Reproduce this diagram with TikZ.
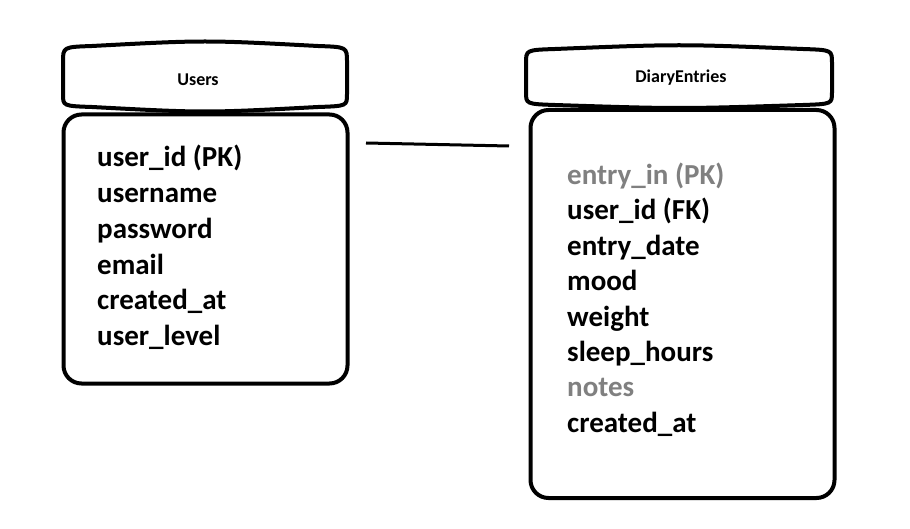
\documentclass[tikz,border=0pt]{standalone}
\usepackage{fontspec}
\setmainfont{Carlito}
\definecolor{fieldgray}{HTML}{808080}
\begin{document}
\begin{tikzpicture}[x=1pt,y=-1pt,
  outline/.style={line width=4pt, line join=round},
  tbody/.style={outline, draw, rounded corners=18pt, inner sep=0pt},
  title/.style={font=\fontsize{18}{21}\selectfont\bfseries, anchor=base, inner sep=0pt},
  field/.style={font=\fontsize{29}{35}\selectfont\bfseries, anchor=base west, inner sep=0pt},
  grayfield/.style={field, text=fieldgray},
  link/.style={line width=3pt}]
\useasboundingbox (0,0) rectangle (910,529);
% Users header
\draw[outline] (63,62) .. controls (63,47) .. (92,46) .. controls (205,40) .. (318,46) .. controls (347,47) .. (347,62)
  -- (347,94) .. controls (347,106) .. (318,107) .. controls (205,113) .. (92,107) .. controls (63,106) .. (63,94) -- cycle;
\node[title] (uhead) at (198,85.5) {Users};
% Users body
\node[tbody, minimum width=284pt, minimum height=269pt] (ubody) at (205.5,249) {};
\node[field] (u1) at (97,167) {user\_id (PK)};
\node[field] (u2) at (97,202.7) {username};
\node[field] (u3) at (97,238.4) {password};
\node[field] (u4) at (97,274.1) {email};
\node[field] (u5) at (97,309.8) {created\_at};
\node[field] (u6) at (97,345.5) {user\_level};
% DiaryEntries header
\draw[outline] (526,63) .. controls (526,50) .. (555,49) .. controls (679,44) .. (803,49) .. controls (832,50) .. (832,63)
  -- (832,92) .. controls (832,104) .. (803,105) .. controls (679,109) .. (555,105) .. controls (526,104) .. (526,92) -- cycle;
\node[title] (dhead) at (681,83) {DiaryEntries};
% DiaryEntries body
\node[tbody, minimum width=304pt, minimum height=388pt] (dbody) at (682.5,304) {};
\node[grayfield] (d1) at (567,184.5) {entry\_in (PK)};
\node[field] (d2) at (567,219.9) {user\_id (FK)};
\node[field] (d3) at (567,255.3) {entry\_date};
\node[field] (d4) at (567,290.7) {mood};
\node[field] (d5) at (567,326.1) {weight};
\node[field] (d6) at (567,361.5) {sleep\_hours};
\node[grayfield] (d7) at (567,396.9) {notes};
\node[field] (d8) at (567,432.3) {created\_at};
% connector
\coordinate (la) at (366,143);
\coordinate (lb) at (509,146);
\draw[link] (la) -- (lb);
\end{tikzpicture}
\end{document}
